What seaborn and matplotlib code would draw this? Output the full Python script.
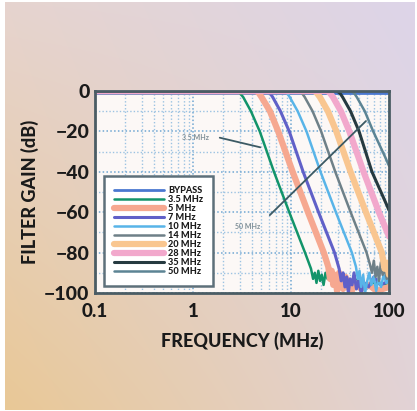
import matplotlib
matplotlib.use("Agg")
import matplotlib.pyplot as plt
import seaborn as sns
import numpy as np
from matplotlib.ticker import FixedLocator, NullFormatter, FixedFormatter

# ---- data (frequency in MHz, gain in dB) ----
labels = ["BYPASS", "3.5 MHz", "5 MHz", "7 MHz", "10 MHz", "14 MHz",
          "20 MHz", "28 MHz", "35 MHz", "50 MHz"]

freq_bypass = [0.1, 100]
gain_bypass = [-0.8, -0.8]

freq_3p5 = [0.1, 2.8, 3.0, 3.25, 3.9, 4.8, 6.7, 9.6, 13.9, 16.0, 16.8, 17.5, 18.2, 19.0,
            19.8, 20.6, 21.5, 22.5, 23.6, 24.8, 26.0, 27.5, 29.0, 33, 38, 45, 55, 70, 100]
gain_3p5 = [0, 0, -1, -3, -10, -20, -40, -60, -80, -88, -93, -90, -95, -89,
            -94, -91, -96, -90, -93, -88, -95, -92, -97, -94, -96, -93, -97, -95, -96]

freq_5 = [0.1, 4.4, 4.7, 5.0, 6.1, 7.4, 10.4, 14.9, 21.6, 24.0, 25.0, 26.0, 27.0, 28.2,
          29.5, 31, 32.5, 34, 36, 38, 41, 45, 52, 62, 75, 100]
gain_5 = [0, 0, -1, -3, -10, -20, -40, -60, -80, -87, -93, -89, -96, -91,
          -99, -90, -94, -98, -92, -96, -100, -95, -98, -96, -99, -97]

freq_7 = [0.1, 5.7, 6.1, 6.5, 7.8, 9.6, 13.3, 19.1, 27.8, 31.0, 32.5, 34, 35.5, 37,
          38.5, 40, 42, 44, 46.5, 49, 52, 56, 62, 70, 82, 100]
gain_7 = [0, 0, -1, -3, -10, -20, -40, -60, -80, -88, -94, -90, -97, -92,
          -100, -93, -96, -90, -98, -94, -100, -95, -97, -92, -96, -94]

freq_10 = [0.1, 8.5, 9.1, 9.7, 11.7, 14.4, 20.0, 28.7, 41.8, 46, 48, 50, 52, 54.5,
           57, 60, 63, 66, 70, 74, 78, 83, 88, 94, 100]
gain_10 = [0, 0, -1, -3, -10, -20, -40, -60, -80, -87, -93, -89, -97, -91,
           -100, -94, -90, -96, -92, -99, -93, -97, -91, -95, -93]

freq_14 = [0.1, 12.0, 12.9, 13.8, 16.6, 20.3, 28.3, 40.6, 59.0, 64, 67, 70, 73, 76,
           79, 82.5, 86, 90, 95, 100]
gain_14 = [0, 0, -1, -3, -10, -20, -40, -60, -80, -86, -90, -84, -92, -87,
           -94, -85, -91, -88, -93, -89]

freq_20 = [0.1, 17.2, 18.4, 19.7, 23.8, 29.0, 40.5, 58.1, 84.5, 90, 95, 100]
gain_20 = [0, 0, -1, -3, -10, -20, -40, -60, -80, -88, -85, -91]

freq_28 = [0.1, 23.4, 25.0, 26.8, 32.3, 39.4, 55.0, 78.9, 100]
gain_28 = [0, 0, -1, -3, -10, -20, -40, -60, -72]

freq_35 = [0.1, 29.4, 31.5, 33.6, 40.5, 49.5, 67.0, 96.0, 100]
gain_35 = [0, 0, -1, -3, -10, -20, -40, -57, -59]

freq_50 = [0.1, 41.0, 44.0, 46.9, 56.6, 69.0, 90.0, 100]
gain_50 = [0, 0, -1, -3, -10, -20, -32, -37]

series = [(freq_bypass, gain_bypass), (freq_3p5, gain_3p5), (freq_5, gain_5),
          (freq_7, gain_7), (freq_10, gain_10), (freq_14, gain_14),
          (freq_20, gain_20), (freq_28, gain_28), (freq_35, gain_35),
          (freq_50, gain_50)]

colors = ["#4a78d0", "#12946a", "#f6a890", "#6060c8", "#58b4e8", "#6e8088",
          "#f9c690", "#f2a8cc", "#263a40", "#5c8494"]
widths = [2.0, 1.8, 4.5, 2.2, 1.8, 1.8, 4.5, 4.5, 2.2, 1.8]

x_ticks = [0.1, 1, 10, 100]
x_ticklabels = ["0.1", "1", "10", "100"]
y_ticks = [0, -20, -40, -60, -80, -100]

# ---- style ----
sns.set_style("white")
plt.rcParams['font.family'] = ['Lato', 'DejaVu Sans']
plt.rcParams['font.weight'] = 'bold'

fig = plt.figure(figsize=(4.17, 4.11), dpi=100)
fig.patch.set_facecolor("white")

# gradient backdrop
bg = fig.add_axes([5 / 417, 1 / 411, 410 / 417, 408 / 411], zorder=-5)
tl = np.array([0xe6, 0xd4, 0xcf]) / 255
tr = np.array([0xdd, 0xd5, 0xe9]) / 255
bl = np.array([0xe9, 0xc8, 0x96]) / 255
br = np.array([0xe2, 0xd3, 0xd6]) / 255
u = np.linspace(0, 1, 200)[None, :, None]
v = np.linspace(0, 1, 200)[:, None, None]
img = (1 - v) * ((1 - u) * tl + u * tr) + v * ((1 - u) * bl + u * br)
bg.imshow(img, aspect="auto", interpolation="bilinear")
bg.axis("off")

ax = fig.add_axes([95 / 417, 118 / 411, 294 / 417, 202 / 411])
ax.set_facecolor("#fcf8f6")

for (f, g), lab, c, w in zip(series, labels, colors, widths):
    sns.lineplot(x=f, y=g, ax=ax, color=c, lw=w, label=lab, sort=False)

ax.set_xscale("log")
ax.set_xlim(0.1, 100)
ax.set_ylim(-100, 0)

# grid
minor_x = [m * 10.0 ** d for d in (-1, 0, 1) for m in range(2, 10)]
ax.xaxis.set_major_locator(FixedLocator(x_ticks))
ax.xaxis.set_major_formatter(FixedFormatter(x_ticklabels))
ax.xaxis.set_minor_locator(FixedLocator(minor_x))
ax.xaxis.set_minor_formatter(NullFormatter())
ax.yaxis.set_major_locator(FixedLocator(y_ticks))
ax.yaxis.set_minor_locator(FixedLocator([-10, -30, -50, -70, -90]))
ax.set_yticklabels([str(t).replace("-", "\u2212") for t in y_ticks])
ax.grid(True, which="major", color="#6fa6d2", lw=1.1, ls=(0, (1, 1.5)), zorder=0)
ax.grid(True, which="minor", color="#9cc3e2", lw=1.0, ls=(0, (1, 1.5)), zorder=0)
ax.set_axisbelow(True)

ax.tick_params(axis="both", which="both", length=0)
ax.tick_params(axis="x", pad=7, labelsize=13.5)
ax.tick_params(axis="y", pad=4, labelsize=14)
for lbl in ax.get_xticklabels() + ax.get_yticklabels():
    lbl.set_fontweight("black")
    lbl.set_color("#1a1a1a")

for s in ax.spines.values():
    s.set_color("#4a5c64")
    s.set_linewidth(2)

ax.set_xlabel("FREQUENCY (MHz)", fontsize=13, fontweight="black", color="#1a1a1a", labelpad=9)
ax.set_ylabel("FILTER GAIN (dB)", fontsize=13, fontweight="black", color="#1a1a1a", labelpad=4)

# callouts
ax.annotate("", xy=(5.18, -28.2), xytext=(1.76, -22.8),
            arrowprops=dict(arrowstyle="-", color="#3c5a64", lw=1.3))
ax.text(1.05, -22.8, "3.5 MHz", fontsize=5, color="#7e8e96", ha="center", va="center")
ax.annotate("", xy=(61, -13.9), xytext=(5.8, -62.4),
            arrowprops=dict(arrowstyle="-", color="#3c5a64", lw=1.3))
ax.text(3.64, -67.3, "50 MHz", fontsize=5, color="#7e8e96", ha="center", va="center")

leg = ax.legend(loc="lower left", bbox_to_anchor=(0.031, 0.035), borderaxespad=0,
                fontsize=6.6, handlelength=5.4, labelspacing=0.0, handletextpad=0.5,
                frameon=True, fancybox=False, borderpad=1.1)
leg.get_frame().set_edgecolor("#5d707a")
leg.get_frame().set_linewidth(1.8)
leg.get_frame().set_facecolor("white")
leg.get_frame().set_alpha(1)
for t in leg.get_texts():
    t.set_fontweight("black")
    t.set_color("#1a1a1a")

fig.savefig("out.png", dpi=100)
